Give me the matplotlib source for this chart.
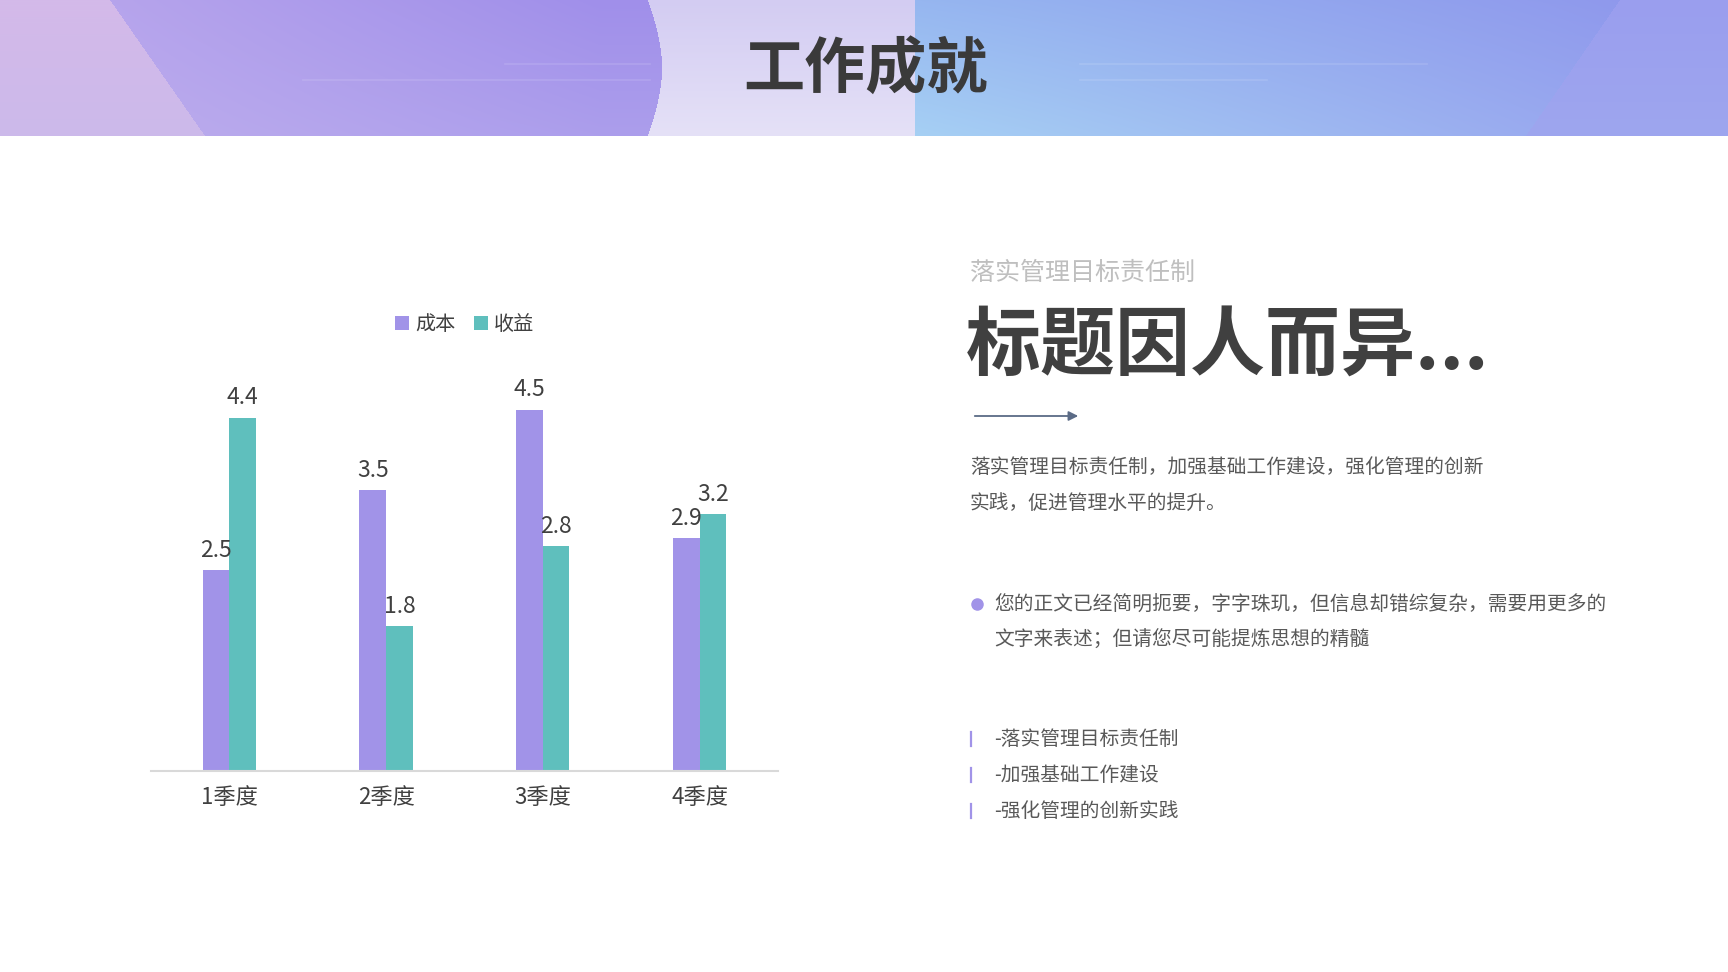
import matplotlib
matplotlib.use("Agg")
import matplotlib.pyplot as plt
import numpy as np

plt.rcParams['font.family'] = ['Noto Sans CJK SC', 'DejaVu Sans']

# chart data
quarters = ['1季度', '2季度', '3季度', '4季度']
cost = [2.5, 3.5, 4.5, 2.9]
revenue = [4.4, 1.8, 2.8, 3.2]
series_names = ['成本', '收益']

# slide texts
page_title = '工作成就'
subtitle = '落实管理目标责任制'
headline = '标题因人而异...'
para_lines = ['落实管理目标责任制，加强基础工作建设，强化管理的创新',
              '实践，促进管理水平的提升。']
bullet_lines = ['您的正文已经简明扼要，字字珠玑，但信息却错综复杂，需要用更多的',
                '文字来表述；但请您尽可能提炼思想的精髓']
list_items = ['-落实管理目标责任制', '-加强基础工作建设', '-强化管理的创新实践']

PURPLE = '#a193e8'
TEAL = '#5fbfbd'
DARK = '#404040'
BODY = '#595959'

W, H = 1728, 972
fig = plt.figure(figsize=(W / 100, H / 100), dpi=100)
fig.patch.set_facecolor('white')

# background / decoration layer in pixel coordinates
bg = fig.add_axes([0, 0, 1, 1])
bg.set_xlim(0, W)
bg.set_ylim(H, 0)
bg.axis('off')


def lerp(a, b, t):
    a = np.asarray(a, float)
    b = np.asarray(b, float)
    return a * (1 - t[..., None]) + b * t[..., None]


hh = 136
yy, xx = np.mgrid[0:hh, 0:W] + 0.5
s = yy / hh
img = lerp((211, 204, 242), (229, 225, 247), s)

left = xx < 648 + 14 * np.sin(np.pi * s)
tl = np.clip((xx - 110) / 490, 0, 1)
col_left = lerp((182, 164, 236), (160, 143, 234), tl) * (1 - s[..., None]) + \
    lerp((188, 172, 237), (172, 158, 236), tl) * s[..., None]
img[left] = col_left[left]
corner_l = xx < 110 + 95 * s
img[corner_l] = lerp((212, 186, 233), (204, 186, 235), s)[corner_l]

right = xx >= 915
tr = np.clip((xx - 915) / (W - 915), 0, 1)
col_right = lerp((150, 182, 240), (142, 148, 236), tr) * (1 - s[..., None]) + \
    lerp((166, 208, 244), (150, 160, 238), tr) * s[..., None]
img[right] = col_right[right]
corner_r = xx > 1620 - 94 * s
img[corner_r] = lerp((154, 158, 238), (158, 166, 239), s)[corner_r]

bg.imshow(img / 255.0, extent=[0, W, hh, 0], aspect='auto', zorder=0)
for x0, x1, y in [(505, 650, 64), (303, 650, 80), (1080, 1427, 64), (1080, 1267, 80)]:
    bg.plot([x0, x1], [y, y], color='white', alpha=0.12, lw=1.2)

bg.text(866, 70, page_title, fontsize=44, fontweight='bold', color='#3a3a3a',
        ha='center', va='center')

# right column texts
bg.text(970, 273, subtitle, fontsize=18, color='#bfbfbf', ha='left', va='center')
bg.text(966, 347, headline, fontsize=54, fontweight='bold', color=DARK,
        ha='left', va='center')
bg.annotate('', xy=(1081, 416), xytext=(972, 416),
            arrowprops=dict(arrowstyle='-|>', color='#5b6b86', lw=1.3,
                            mutation_scale=14))
for i, line in enumerate(para_lines):
    bg.text(970, 467 + i * 36, line, fontsize=14.2, color=BODY, ha='left', va='center')

bg.plot([977], [604], 'o', color=PURPLE, ms=8)
for i, line in enumerate(bullet_lines):
    bg.text(994, 604 + i * 36, line, fontsize=14.2, color=BODY, ha='left', va='center')

for i, item in enumerate(list_items):
    y = 739 + i * 36
    bg.plot([971, 971], [y - 7, y + 7], color=PURPLE, lw=1.6)
    bg.text(994, y, item, fontsize=14.2, color=BODY, ha='left', va='center')

# bar chart
ax = fig.add_axes([0.0874, 0.2068, 0.3628, 0.413])
ax.patch.set_alpha(0)
x = np.arange(len(quarters))
bw = 0.17
b1 = ax.bar(x - bw / 2, cost, bw, color=PURPLE, label=series_names[0])
b2 = ax.bar(x + bw / 2, revenue, bw, color=TEAL, label=series_names[1])
ax.bar_label(b1, padding=6, fontsize=16.5, color=DARK)
ax.bar_label(b2, padding=6, fontsize=16.5, color=DARK)

ax.set_xlim(-0.5, 3.5)
ax.set_ylim(0, 5)
ax.set_xticks(x)
ax.set_xticklabels(quarters, fontsize=16, color=DARK)
ax.tick_params(axis='x', length=0, pad=11)
ax.set_yticks([])
for side in ['top', 'right', 'left']:
    ax.spines[side].set_visible(False)
ax.spines['bottom'].set_color('#d9d9d9')
ax.spines['bottom'].set_linewidth(1.5)

ax.legend(loc='center', bbox_to_anchor=(0.5, 1.113), ncol=2, frameon=False,
          fontsize=14.5, handlelength=0.7, handleheight=0.7, handletextpad=0.3,
          columnspacing=0.9, labelcolor=DARK)

fig.savefig('out.png', dpi=100)
